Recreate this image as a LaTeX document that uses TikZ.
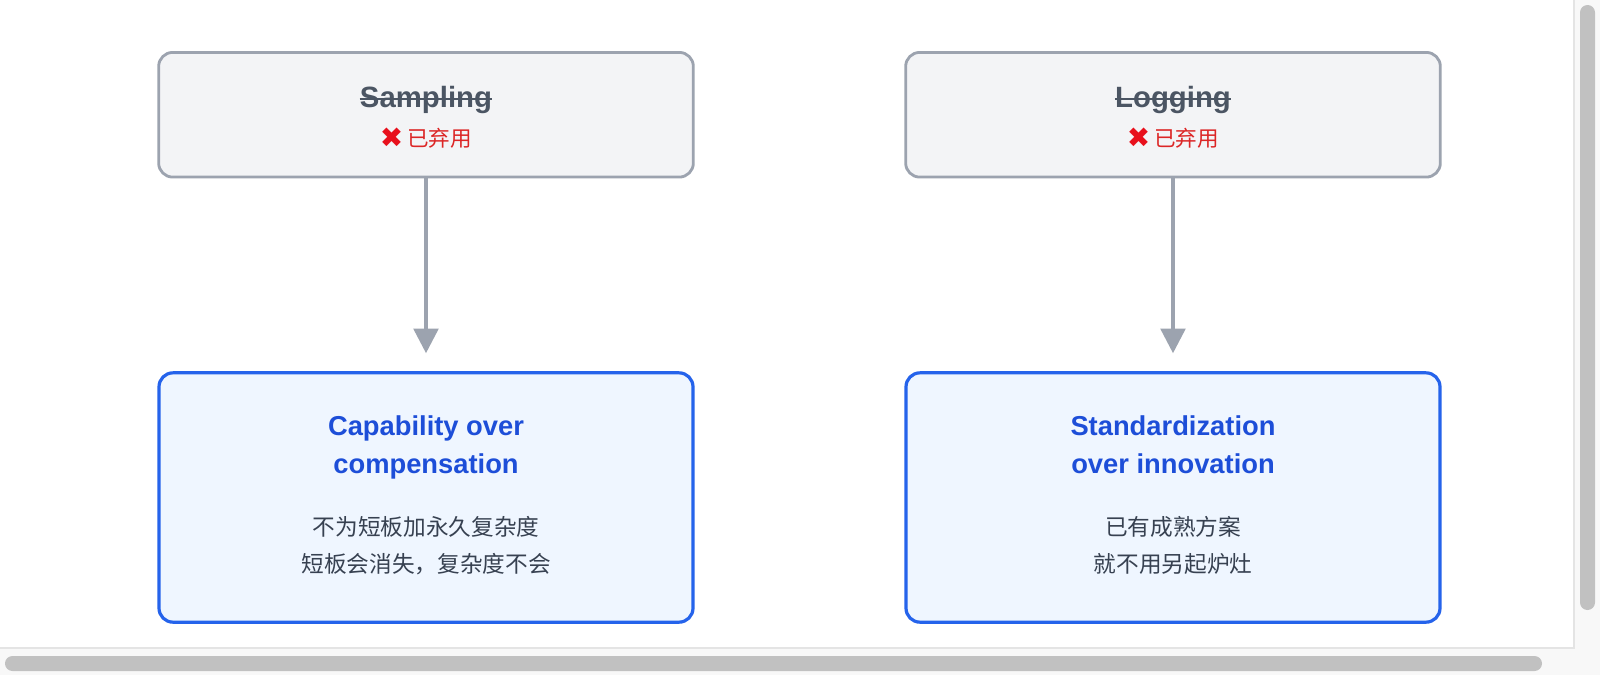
\documentclass[tikz,border=0pt]{standalone}
\usepackage{fontspec}
\setmainfont{Liberation Sans}
\newfontfamily\cjk{Noto Sans CJK SC}
\newfontfamily\dejavu{DejaVu Sans}
\usetikzlibrary{arrows.meta}
\definecolor{grayborder}{HTML}{9CA3AF}
\definecolor{grayfill}{HTML}{F3F4F6}
\definecolor{blueborder}{HTML}{2563EB}
\definecolor{bluefill}{HTML}{EFF6FF}
\definecolor{bluetext}{HTML}{1D4ED8}
\definecolor{darktext}{HTML}{374151}
\definecolor{striketext}{HTML}{4B5563}
\definecolor{redtext}{HTML}{DC2626}
\definecolor{redx}{HTML}{E8101C}
\definecolor{trackbg}{HTML}{F8F8F8}
\definecolor{trackline}{HTML}{E4E4E4}
\definecolor{thumb}{HTML}{C1C1C1}
\tikzset{
  oldbox/.style={draw=grayborder, fill=grayfill, line width=2.1pt, rounded corners=10.5pt,
    minimum width=401pt, minimum height=93.5pt, inner sep=0pt},
  newbox/.style={draw=blueborder, fill=bluefill, line width=2.4pt, rounded corners=10.5pt,
    minimum width=400.5pt, minimum height=187pt, inner sep=0pt},
  oldtitle/.style={text=striketext, font=\bfseries\fontsize{22pt}{26pt}\selectfont, inner sep=0pt, anchor=base},
  deprecated/.style={text=redtext, font=\cjk\fontsize{16.2pt}{19pt}\selectfont, inner sep=0pt, anchor=base},
  newtitle/.style={text=bluetext, font=\bfseries\fontsize{20.5pt}{24pt}\selectfont, inner sep=0pt, anchor=base},
  body/.style={text=darktext, font=\cjk\fontsize{17pt}{20pt}\selectfont, inner sep=0pt, anchor=base},
  flow/.style={draw=grayborder, line width=2.6pt, -{Triangle[length=18.5pt, width=18.5pt]}, shorten >=13.5pt},
  strike/.style={draw=striketext, line width=2pt}
}
\begin{document}
\begin{tikzpicture}[x=0.75pt, y=-0.75pt]
\useasboundingbox (0,0) rectangle (1600,675);
\fill[white] (0,0) rectangle (1600,675);
% scrollbars
\fill[trackbg] (1574,0) rectangle (1600,675);
\fill[trackbg] (0,648) rectangle (1600,675);
\draw[trackline, line width=0.9pt] (1574,0) -- (1574,648) -- (0,648);
\fill[thumb, rounded corners=5.6pt] (1580,5) rectangle (1595,610);
\fill[thumb, rounded corners=5.6pt] (5,656) rectangle (1542,671);

% boxes
\node[oldbox] (s1) at (426,114.75) {};
\node[oldbox] (s2) at (1173,114.75) {};
\node[newbox] (b1) at (426,497.5) {};
\node[newbox] (b2) at (1173,497.5) {};

% connectors
\draw[flow] (s1.south) -- (b1.north);
\draw[flow] (s2.south) -- (b2.north);

% old titles with strike-through
\node[oldtitle] (t1) at (426,107.5) {Sampling};
\node[oldtitle] (t2) at (1173,107.5) {Logging};
\draw[strike] ([yshift=6.4pt]t1.base west) -- ([yshift=6.4pt]t1.base east);
\draw[strike] ([yshift=6.4pt]t2.base west) -- ([yshift=6.4pt]t2.base east);

\node[deprecated] (d1) at (426,146) {{\dejavu\color{redx}\fontsize{21pt}{22pt}\selectfont\raisebox{-1.2pt}{✖}}\hspace{3pt}已弃用};
\node[deprecated] (d2) at (1173,146) {{\dejavu\color{redx}\fontsize{21pt}{22pt}\selectfont\raisebox{-1.2pt}{✖}}\hspace{3pt}已弃用};

% new titles
\node[newtitle] (n1a) at (426,435.5) {Capability over};
\node[newtitle] (n1b) at (426,473.5) {compensation};
\node[newtitle] (n2a) at (1173,435.5) {Standardization};
\node[newtitle] (n2b) at (1173,473.5) {over innovation};

% bodies
\node[body] (p1a) at (426,535) {不为短板加永久复杂度};
\node[body] (p1b) at (426,572) {短板会消失，复杂度不会};
\node[body] (p2a) at (1173,535) {已有成熟方案};
\node[body] (p2b) at (1173,572) {就不用另起炉灶};
\end{tikzpicture}
\end{document}
